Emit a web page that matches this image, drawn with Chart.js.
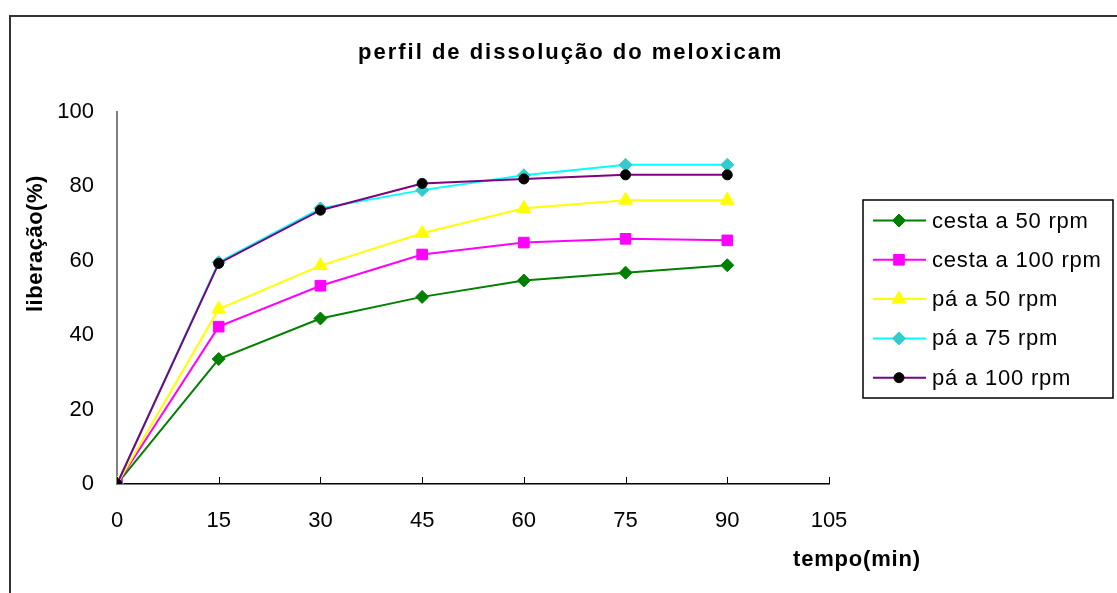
<!DOCTYPE html>
<html lang="pt">
  <head>
    <meta charset="UTF-8" />
    <title>perfil de dissolução do meloxicam</title>
    <script src="https://cdn.jsdelivr.net/npm/chart.js"></script>
    <style>
      body {
        margin: 0;
        background: #fff;
      }
      .grafico {
        position: relative;
        width: 1117px;
        height: 593px;
      }
    </style>
  </head>
  <body>
    <div class="grafico">
      <canvas id="dissolucao"></canvas>
    </div>
    <script>
      // tempos de coleta (min) e % liberada
      const tempos = [0, 15, 30, 45, 60, 75, 90];
      const cesta50 = [0, 33.6, 44.5, 50.3, 54.7, 56.8, 58.8];
      const cesta100 = [0, 42.3, 53.3, 61.7, 64.9, 65.9, 65.5];
      const pa50 = [0, 47.0, 58.7, 67.4, 74.1, 76.3, 76.3];
      const pa75 = [0, 59.6, 74.1, 79.0, 83.0, 85.8, 85.8];
      const pa100 = [0, 59.3, 73.6, 80.8, 82.0, 83.1, 83.1];

      const nomes = ["cesta a 50 rpm", "cesta a 100 rpm", "pá a 50 rpm", "pá a 75 rpm", "pá a 100 rpm"];
      const titulo = "perfil de dissolução do meloxicam";
      const tituloX = "tempo(min)";
      const tituloY = "liberação(%)";

      const fonte = '"Liberation Sans", Arial, sans-serif';

      function pontos(valores) {
        return tempos.map((t, i) => ({ x: t, y: valores[i] }));
      }

      function serie(label, valores, linha, marcador, estilo, raio, ordem) {
        return {
          label: label,
          data: pontos(valores),
          borderColor: linha,
          borderWidth: 2,
          backgroundColor: marcador,
          pointBackgroundColor: marcador,
          pointBorderColor: marcador,
          pointBorderWidth: 1,
          pointStyle: estilo,
          pointRadius: raio,
          pointHoverRadius: raio,
          tension: 0,
          fill: false,
          order: ordem,
        };
      }

      // desenha moldura, titulos, marcas do eixo x e legenda
      const extras = {
        id: "extras",
        afterDraw(chart) {
          const ctx = chart.ctx;
          const sx = chart.scales.x;
          ctx.save();

          // moldura externa
          ctx.strokeStyle = "#333";
          ctx.lineWidth = 2;
          ctx.strokeRect(10, 16, 1200, 700);

          // marcas do eixo x (para dentro)
          ctx.strokeStyle = "#000";
          ctx.lineWidth = 1;
          sx.ticks.forEach((t) => {
            const px = Math.round(sx.getPixelForValue(t.value)) + 0.5;
            ctx.beginPath();
            ctx.moveTo(px, sx.top);
            ctx.lineTo(px, sx.top - 7);
            ctx.stroke();
          });

          ctx.fillStyle = "#000";
          ctx.textAlign = "left";
          ctx.textBaseline = "alphabetic";

          // titulo
          ctx.font = "bold 22px " + fonte;
          ctx.letterSpacing = "2px";
          ctx.fillText(titulo, 358, 59);

          // titulo eixo x
          ctx.letterSpacing = "0.8px";
          ctx.fillText(tituloX, 793, 566);

          // titulo eixo y
          ctx.save();
          ctx.translate(42, 312);
          ctx.rotate(-Math.PI / 2);
          ctx.letterSpacing = "0.5px";
          ctx.fillText(tituloY, 0, 0);
          ctx.restore();

          // legenda
          ctx.strokeStyle = "#000";
          ctx.lineWidth = 1.5;
          ctx.strokeRect(863, 200, 250, 198);
          ctx.font = "22px " + fonte;
          ctx.letterSpacing = "0.8px";
          chart.data.datasets.forEach((ds, i) => {
            const y = 220.5 + i * 39.3;
            ctx.strokeStyle = ds.borderColor;
            ctx.lineWidth = 2;
            ctx.beginPath();
            ctx.moveTo(873, y);
            ctx.lineTo(926, y);
            ctx.stroke();
            ctx.fillStyle = ds.pointBackgroundColor;
            ctx.strokeStyle = ds.pointBorderColor;
            ctx.lineWidth = 1;
            Chart.helpers.drawPoint(
              ctx,
              { pointStyle: ds.pointStyle, radius: ds.pointRadius, rotation: 0, borderWidth: 1 },
              899,
              y
            );
            ctx.fillStyle = "#000";
            ctx.fillText(ds.label, 932, y + 7);
          });

          ctx.restore();
        },
      };

      const ctx = document.getElementById("dissolucao").getContext("2d");

      new Chart(ctx, {
        type: "line",
        data: {
          datasets: [
            serie(nomes[0], cesta50, "#008000", "#008000", "rectRot", 6.5, 5),
            serie(nomes[1], cesta100, "#FF00FF", "#FF00FF", "rect", 7.5, 4),
            serie(nomes[2], pa50, "#FFFF00", "#FFFF00", "triangle", 8, 3),
            serie(nomes[3], pa75, "#00FFFF", "#33CCCC", "rectRot", 6.5, 2),
            serie(nomes[4], pa100, "#800080", "#000000", "circle", 5, 1),
          ],
        },
        options: {
          responsive: true,
          maintainAspectRatio: false,
          animation: false,
          events: [],
          color: "#000",
          layout: { padding: { left: 0, top: 112, right: 288, bottom: 0 } },
          plugins: {
            legend: { display: false },
            title: { display: false },
            tooltip: { enabled: false },
          },
          scales: {
            x: {
              type: "linear",
              min: 0,
              max: 105,
              grid: { display: false },
              border: { color: "#000", width: 1.5 },
              ticks: {
                stepSize: 15,
                color: "#000",
                padding: 16,
                maxRotation: 0,
                font: { family: fonte, size: 22 },
              },
              afterFit(scale) {
                scale.height = 109;
              },
            },
            y: {
              min: 0,
              max: 100,
              grid: { display: false },
              border: { color: "#808080", width: 2 },
              ticks: {
                stepSize: 20,
                color: "#000",
                padding: 15,
                font: { family: fonte, size: 22 },
              },
              afterFit(scale) {
                scale.width = 117;
              },
            },
          },
        },
        plugins: [extras],
      });
    </script>
  </body>
</html>
